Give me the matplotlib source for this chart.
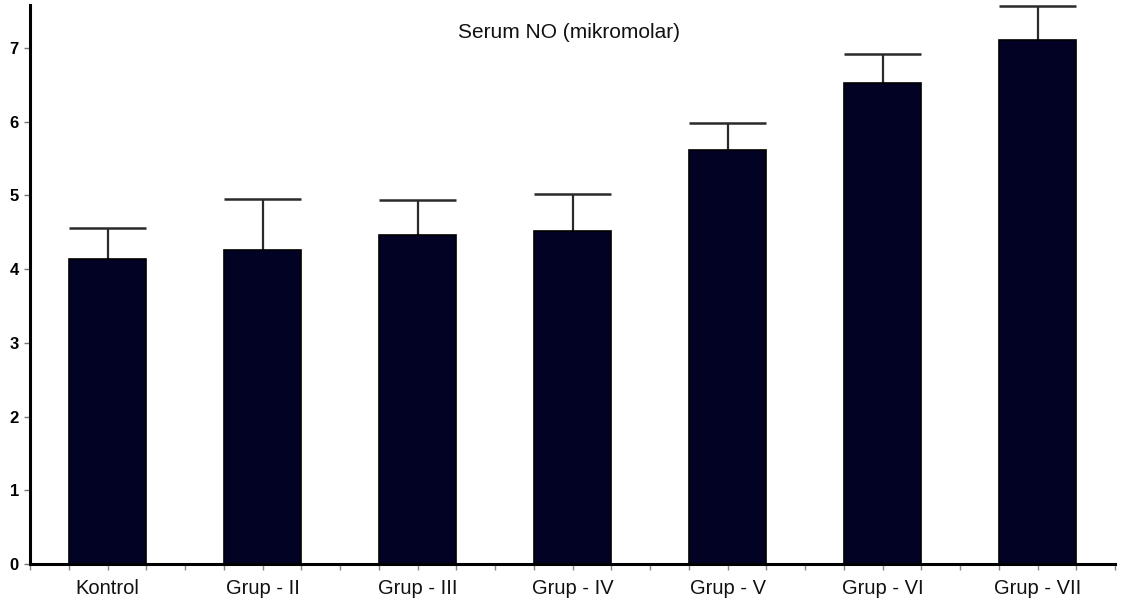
import numpy as np
import matplotlib
matplotlib.use('Agg')
import matplotlib.pyplot as plt
from matplotlib.ticker import MultipleLocator

plt.rcParams['font.family'] = ['Liberation Sans', 'DejaVu Sans']

# Serum NO (mikromolar) - ortalama ve hata çubukları (okunan değerler)
groups = ['Kontrol', 'Grup - II', 'Grup - III', 'Grup - IV', 'Grup - V', 'Grup - VI', 'Grup - VII']
means = [4.13, 4.26, 4.46, 4.52, 5.61, 6.52, 7.10]
errors = [0.43, 0.69, 0.47, 0.50, 0.37, 0.39, 0.47]
y_ticks = [0, 1, 2, 3, 4, 5, 6, 7]

BAR_W = 0.5
BAR_COLOR = '#020224'

fig = plt.figure(figsize=(11.23, 6.05), dpi=100)
ax = fig.add_axes([30 / 1123, 41 / 605, (1115 - 30) / 1123, (564 - 5) / 605])

x = np.arange(len(groups))
ax.bar(x, means, width=BAR_W, color=BAR_COLOR, edgecolor='black', linewidth=1.2, zorder=2)

tops = np.array(means) + np.array(errors)
# hata çubuğu: ortadan dikey çizgi + çubuk genişliğinde kapak
ax.vlines(x, means, tops, color='#2a2a2a', linewidth=1.6, zorder=1)
ax.hlines(tops, x - BAR_W / 2, x + BAR_W / 2, color='#2a2a2a', linewidth=1.8, zorder=1)

ax.set_xlim(-0.5, 6.5)
ax.set_ylim(0, 7.58)

ax.set_xticks(x)
ax.set_xticklabels(groups, fontsize=14.5, color='#111111')
ax.xaxis.set_minor_locator(MultipleLocator(0.25))
ax.set_yticks(y_ticks)
ax.set_yticklabels([str(v) for v in y_ticks], fontsize=12, fontweight='bold')

ax.tick_params(axis='x', which='both', length=4, width=1, color='#888888', pad=7)
ax.tick_params(axis='y', length=4, width=1, color='#777777', pad=4)

for side in ('top', 'right'):
    ax.spines[side].set_visible(False)
for side in ('left', 'bottom'):
    ax.spines[side].set_linewidth(2.2)
    ax.spines[side].set_color('black')

ax.text(0.497, 0.95, 'Serum NO (mikromolar)', transform=ax.transAxes,
        ha='center', va='center', fontsize=15, color='#111111')

fig.savefig('out.png', dpi=100, facecolor='white')
